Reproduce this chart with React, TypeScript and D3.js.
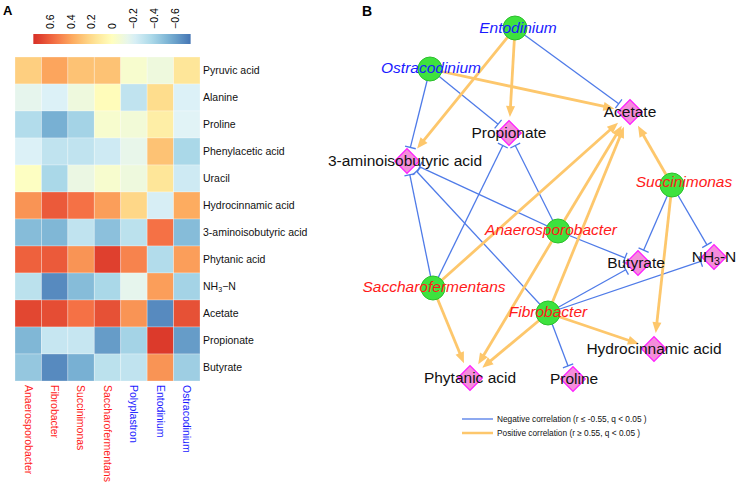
import React from "react";
import * as d3 from "d3";

// ---------- DATA ----------
const taxa = ["Anaerosporobacter", "Fibrobacter", "Succinimonas", "Saccharofermentans", "Polyplastron", "Entodinium", "Ostracodinium"];
const taxaKind = ["bacteria", "bacteria", "bacteria", "bacteria", "protozoa", "protozoa", "protozoa"];
const metabolites = ["Pyruvic acid", "Alanine", "Proline", "Phenylacetic acid", "Uracil", "Hydrocinnamic acid", "3-aminoisobutyric acid", "Phytanic acid", "NH3-N", "Acetate", "Propionate", "Butyrate"];
const pyruvic = [0.25, 0.4, 0.3, 0.3, -0.05, -0.1, 0.15];
const alanine = [-0.15, -0.2, -0.1, 0.02, -0.3, 0.2, -0.2];
const proline = [-0.35, -0.55, -0.4, -0.05, -0.08, 0.1, -0.18];
const phenylacetic = [-0.2, -0.3, -0.3, -0.25, -0.14, 0.3, -0.38];
const uracil = [-0.01, -0.38, -0.12, -0.05, -0.1, 0.15, -0.25];
const hydrocinnamic = [0.45, 0.62, 0.55, 0.42, 0.22, -0.22, 0.38];
const aminoisobutyric = [-0.5, -0.52, -0.3, -0.48, -0.32, 0.55, -0.5];
const phytanic = [0.6, 0.62, 0.45, 0.7, 0.5, -0.35, 0.42];
const nh3n = [-0.32, -0.68, -0.5, -0.38, -0.15, 0.42, -0.4];
const acetate = [0.68, 0.66, 0.55, 0.65, 0.45, -0.68, 0.65];
const propionate = [-0.52, -0.28, -0.28, -0.62, -0.4, 0.72, -0.62];
const butyrate = [-0.45, -0.68, -0.55, -0.32, -0.3, 0.45, -0.42];
const corrRows = [pyruvic, alanine, proline, phenylacetic, uracil, hydrocinnamic, aminoisobutyric, phytanic, nh3n, acetate, propionate, butyrate];
const colorTicks = [0.6, 0.4, 0.2, 0, -0.2, -0.4, -0.6];

const networkTaxa = ["Entodinium", "Ostracodinium", "Succinimonas", "Anaerosporobacter", "Saccharofermentans", "Fibrobacter"];
const networkMetabolites = ["Propionate", "3-aminoisobutyric acid", "Acetate", "Butyrate", "NH3-N", "Hydrocinnamic acid", "Phytanic acid", "Proline"];
const negativeEdges = [
  ["Entodinium", "Acetate"],
  ["Ostracodinium", "3-aminoisobutyric acid"],
  ["Ostracodinium", "Propionate"],
  ["Saccharofermentans", "3-aminoisobutyric acid"],
  ["Saccharofermentans", "Propionate"],
  ["Anaerosporobacter", "Propionate"],
  ["Anaerosporobacter", "3-aminoisobutyric acid"],
  ["Anaerosporobacter", "Butyrate"],
  ["Fibrobacter", "3-aminoisobutyric acid"],
  ["Fibrobacter", "Butyrate"],
  ["Fibrobacter", "NH3-N"],
  ["Fibrobacter", "Proline"],
  ["Succinimonas", "Butyrate"],
  ["Succinimonas", "NH3-N"],
];
const positiveEdges = [
  ["Entodinium", "3-aminoisobutyric acid"],
  ["Entodinium", "Propionate"],
  ["Ostracodinium", "Acetate"],
  ["Succinimonas", "Acetate"],
  ["Succinimonas", "Hydrocinnamic acid"],
  ["Saccharofermentans", "Acetate"],
  ["Saccharofermentans", "Phytanic acid"],
  ["Anaerosporobacter", "Acetate"],
  ["Anaerosporobacter", "Phytanic acid"],
  ["Fibrobacter", "Acetate"],
  ["Fibrobacter", "Phytanic acid"],
  ["Fibrobacter", "Hydrocinnamic acid"],
];
const legendLabels = ["Negative correlation (r \u2264 -0.55, q < 0.05 )", "Positive correlation (r \u2265 0.55, q < 0.05 )"];

// ---------- LAYOUT (network node placement, label offsets) ----------
const layout: Record<string, { x: number; y: number; lx: number; ly: number }> = {
  "Entodinium": { x: 515, y: 28, lx: 3, ly: 0 },
  "Ostracodinium": { x: 430, y: 69, lx: 1, ly: -1 },
  "Succinimonas": { x: 672, y: 185, lx: 12, ly: -3 },
  "Anaerosporobacter": { x: 558, y: 231, lx: -7, ly: -1 },
  "Saccharofermentans": { x: 433, y: 288, lx: 1, ly: -1 },
  "Fibrobacter": { x: 548, y: 313, lx: 0, ly: -1 },
  "Propionate": { x: 509, y: 133, lx: 0, ly: 0 },
  "3-aminoisobutyric acid": { x: 407, y: 161, lx: -2, ly: 0 },
  "Acetate": { x: 630, y: 112, lx: 0, ly: 0 },
  "Butyrate": { x: 638, y: 263, lx: -2, ly: 0 },
  "NH3-N": { x: 714, y: 257, lx: 0, ly: 0 },
  "Hydrocinnamic acid": { x: 654, y: 349, lx: 0, ly: 0 },
  "Phytanic acid": { x: 470, y: 378, lx: 0, ly: 0 },
  "Proline": { x: 573, y: 379, lx: 1, ly: 0 },
};

const FONT = "Arial, 'Liberation Sans', Helvetica, sans-serif";
const RED = "#ff1a1a";
const BLUE = "#1a1aff";
const NEG = "#4f7be8";
const POS = "#fdc76c";

const colorScale = d3
  .scaleLinear<string>()
  .domain(d3.range(9).map((i) => 0.75 - (i * 1.5) / 8))
  .range(["#d73027", "#f46d43", "#fdae61", "#fee090", "#ffffbf", "#e0f3f8", "#abd9e9", "#74add1", "#4575b4"])
  .clamp(true);

function LabelText({ name, x, y, size, fill, anchor = "middle", italic = false }: any) {
  if (name === "NH3-N") {
    return (
      <text x={x} y={y} fontSize={size} fill={fill} textAnchor={anchor} dy="0.35em" fontFamily={FONT} fontStyle={italic ? "italic" : "normal"}>
        NH<tspan fontSize={size * 0.68} dy={size * 0.18}>3</tspan>
        <tspan dy={-size * 0.18}>{anchor === "start" ? "\u2212N" : "-N"}</tspan>
      </text>
    );
  }
  return (
    <text x={x} y={y} fontSize={size} fill={fill} textAnchor={anchor} dy="0.35em" fontFamily={FONT} fontStyle={italic ? "italic" : "normal"}>
      {name}
    </text>
  );
}

function Heatmap() {
  const x = d3.scaleBand<string>().domain(taxa).range([15, 200]);
  const y = d3.scaleBand<string>().domain(metabolites).range([57, 381]);
  const cb = d3.scaleLinear().domain([0.6, -0.6]).range([50, 175]);
  const cbLeft = cb(0.76);
  const cbRight = cb(-0.75);
  const stops = d3.range(0, 21).map((i) => i / 20);
  return (
    <g>
      <text x={3} y={15} fontSize={13} fontWeight="bold" fontFamily={FONT}>A</text>
      <defs>
        <linearGradient id="cbgrad" x1="0" x2="1" y1="0" y2="0">
          {stops.map((t) => (
            <stop key={t} offset={t} stopColor={colorScale(cb.invert(cbLeft + t * (cbRight - cbLeft)))} />
          ))}
        </linearGradient>
      </defs>
      <rect x={cbLeft} y={34} width={cbRight - cbLeft} height={10} fill="url(#cbgrad)" />
      {colorTicks.map((v) => (
        <text key={v} transform={`translate(${cb(v)},29) rotate(-90)`} fontSize={10.5} dy="0.35em" fontFamily={FONT} textAnchor="start">
          {v < 0 ? "\u2212" + Math.abs(v) : String(v)}
        </text>
      ))}
      {corrRows.map((row, ri) =>
        row.map((v, ci) => (
          <rect
            key={`${ri}-${ci}`}
            x={x(taxa[ci])}
            y={y(metabolites[ri])}
            width={x.bandwidth()}
            height={y.bandwidth()}
            fill={colorScale(v)}
            stroke="rgba(255,255,255,0.35)"
            strokeWidth={0.8}
          />
        ))
      )}
      {metabolites.map((m) => (
        <LabelText key={m} name={m} x={203} y={(y(m) as number) + y.bandwidth() / 2} size={10.5} fill="#111" anchor="start" />
      ))}
      {taxa.map((t, i) => (
        <text
          key={t}
          transform={`translate(${(x(t) as number) + x.bandwidth() / 2},385) rotate(90)`}
          fontSize={10.5}
          dy="0.35em"
          fontFamily={FONT}
          fill={taxaKind[i] === "bacteria" ? RED : BLUE}
        >
          {t}
        </text>
      ))}
    </g>
  );
}

function Network() {
  const edgeEls: any[] = [];
  const mk = (pair: string[], positive: boolean, k: number) => {
    const s = layout[pair[0]];
    const t = layout[pair[1]];
    const dx = t.x - s.x;
    const dy = t.y - s.y;
    const len = Math.hypot(dx, dy);
    const ux = dx / len;
    const uy = dy / len;
    const px = -uy;
    const py = ux;
    if (!positive) {
      const off = 14;
      const ex = t.x - ux * off;
      const ey = t.y - uy * off;
      return (
        <g key={"n" + k}>
          <line x1={s.x} y1={s.y} x2={ex} y2={ey} stroke={NEG} strokeWidth={1.3} />
          <line x1={ex + px * 5.5} y1={ey + py * 5.5} x2={ex - px * 5.5} y2={ey - py * 5.5} stroke={NEG} strokeWidth={1.3} />
        </g>
      );
    }
    const off = 16;
    const ex = t.x - ux * off;
    const ey = t.y - uy * off;
    const al = 11;
    const bx = ex - ux * al;
    const by = ey - uy * al;
    const path = d3.path();
    path.moveTo(ex, ey);
    path.lineTo(bx + px * 4.5, by + py * 4.5);
    path.lineTo(bx - px * 4.5, by - py * 4.5);
    path.closePath();
    return (
      <g key={"p" + k}>
        <line x1={s.x} y1={s.y} x2={bx + ux * 3} y2={by + uy * 3} stroke={POS} strokeWidth={2.8} />
        <path d={path.toString()} fill={POS} />
      </g>
    );
  };
  negativeEdges.forEach((e, i) => edgeEls.push(mk(e, false, i)));
  positiveEdges.forEach((e, i) => edgeEls.push(mk(e, true, i)));
  const diamond = d3.symbol().type(d3.symbolSquare).size(2 * 8.7 * 8.7 * 2);
  return (
    <g>
      <text x={362} y={16} fontSize={14} fontWeight="bold" fontFamily={FONT}>B</text>
      {edgeEls}
      {networkTaxa.map((n) => (
        <circle key={n} cx={layout[n].x} cy={layout[n].y} r={12} fill="#3ee23e" stroke="#2cbf2c" strokeWidth={1} />
      ))}
      {networkMetabolites.map((n) => (
        <path
          key={n}
          d={diamond() as string}
          transform={`translate(${layout[n].x},${layout[n].y}) rotate(45)`}
          fill="#f58ddb"
          stroke="#ff1aff"
          strokeWidth={1.2}
        />
      ))}
      {networkTaxa.map((n) => {
        const i = taxa.indexOf(n);
        return (
          <LabelText
            key={n}
            name={n}
            x={layout[n].x + layout[n].lx}
            y={layout[n].y + layout[n].ly}
            size={15.5}
            italic
            fill={taxaKind[i] === "bacteria" ? RED : BLUE}
          />
        );
      })}
      {networkMetabolites.map((n) => (
        <LabelText key={n} name={n} x={layout[n].x + layout[n].lx} y={layout[n].y + layout[n].ly} size={15.5} fill="#111" />
      ))}
      {legendLabels.map((l, i) => (
        <g key={l}>
          <line x1={462} x2={493} y1={419 + i * 14} y2={419 + i * 14} stroke={i === 0 ? NEG : POS} strokeWidth={i === 0 ? 1.3 : 2.5} />
          <text x={497} y={419 + i * 14} dy="0.35em" fontSize={8.3} fontFamily={FONT} fill="#111">{l}</text>
        </g>
      ))}
    </g>
  );
}

export default function App() {
  return (
    <svg width={738} height={482} style={{ position: "absolute", left: 0, top: 0, background: "#fff" }}>
      <rect width={738} height={482} fill="#fff" />
      <Heatmap />
      <Network />
    </svg>
  );
}
